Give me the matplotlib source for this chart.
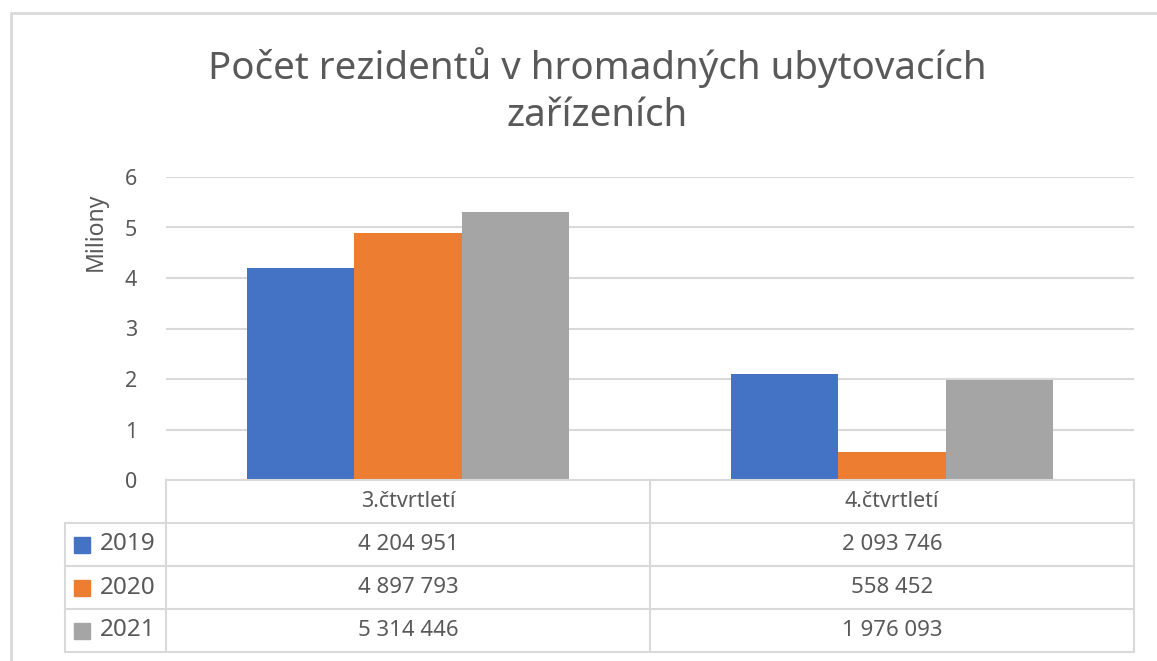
import matplotlib.pyplot as plt
from matplotlib.patches import Rectangle

plt.rcParams['font.family'] = ['Noto Sans', 'DejaVu Sans']

quarters = ['3.čtvrtletí', '4.čtvrtletí']
years = ['2019', '2020', '2021']
values = [[4204951, 2093746],
          [4897793, 558452],
          [5314446, 1976093]]
colors = ['#4472C4', '#ED7D31', '#A5A5A5']
yticks = [0, 1, 2, 3, 4, 5, 6]
title = 'Počet rezidentů v hromadných ubytovacích\nzařízeních'

W, H = 1157, 661
grid_c = '#D9D9D9'
text_c = '#595959'

fig = plt.figure(figsize=(W / 100, H / 100), dpi=100)

def box(l, t, r, b):
    return [l / W, 1 - b / H, (r - l) / W, (b - t) / H]

# outer chart border (cropped on right/bottom)
fig.patches.append(Rectangle((11 / W, -0.1), 1.2, (H - 13) / H + 0.1, transform=fig.transFigure,
                             fill=False, ec=grid_c, lw=2))

ax = fig.add_axes(box(166, 177, 1134, 480))
n = len(years)
bw = 1 / (n + 1.5)
for i in range(n):
    xs = [q + (i - (n - 1) / 2) * bw for q in range(len(quarters))]
    ax.bar(xs, [v / 1e6 for v in values[i]], width=bw, color=colors[i], zorder=3)
ax.set_xlim(-0.5, len(quarters) - 0.5)
ax.set_ylim(0, 6)
ax.set_yticks(yticks)
ax.set_xticks([])
ax.grid(axis='y', color=grid_c, lw=1.5, zorder=0)
for s in ax.spines.values():
    s.set_visible(False)
ax.tick_params(axis='y', length=0, pad=21, labelsize=15.5, labelcolor=text_c)

fig.text(96 / W, 1 - 232 / H, 'Miliony', rotation=90, ha='center', va='center',
         fontsize=16.5, color=text_c)
fig.text(597 / W, 1 - 91 / H, title, ha='center', va='center', fontsize=27.7,
         color=text_c, linespacing=1.31)

# data table below the axis
lab_w = (166 - 65) / 484
tx = fig.add_axes(box(65, 480, 1134, 652))
tx.set_xlim(-0.5 - lab_w, len(quarters) - 0.5)
tx.set_ylim(n + 1, 0)
tx.axis('off')
lkw = dict(color=grid_c, lw=1.5, clip_on=False, solid_capstyle='projecting')
x0, x1 = -0.5 - lab_w, len(quarters) - 0.5
tx.plot([-0.5, x1], [0, 0], **lkw)
for r in range(1, n + 2):
    tx.plot([x0, x1], [r, r], **lkw)
tx.plot([x0, x0], [1, n + 1], **lkw)
for q in range(len(quarters) + 1):
    tx.plot([q - 0.5, q - 0.5], [0, n + 1], **lkw)
for q, name in enumerate(quarters):
    tx.text(q, 0.5, name, ha='center', va='center', fontsize=15.5, color=text_c)
    for i in range(n):
        s = f'{values[i][q]:,}'.replace(',', ' ')
        tx.text(q, i + 1.5, s, ha='center', va='center', fontsize=16, color=text_c)
for i, y in enumerate(years):
    tx.plot([x0 + 0.035], [i + 1.5], marker='s', ms=11, color=colors[i], clip_on=False)
    tx.text(x0 + 0.072, i + 1.5, y, ha='left', va='center', fontsize=17.5, color=text_c)

fig.savefig('out.png', dpi=100)
